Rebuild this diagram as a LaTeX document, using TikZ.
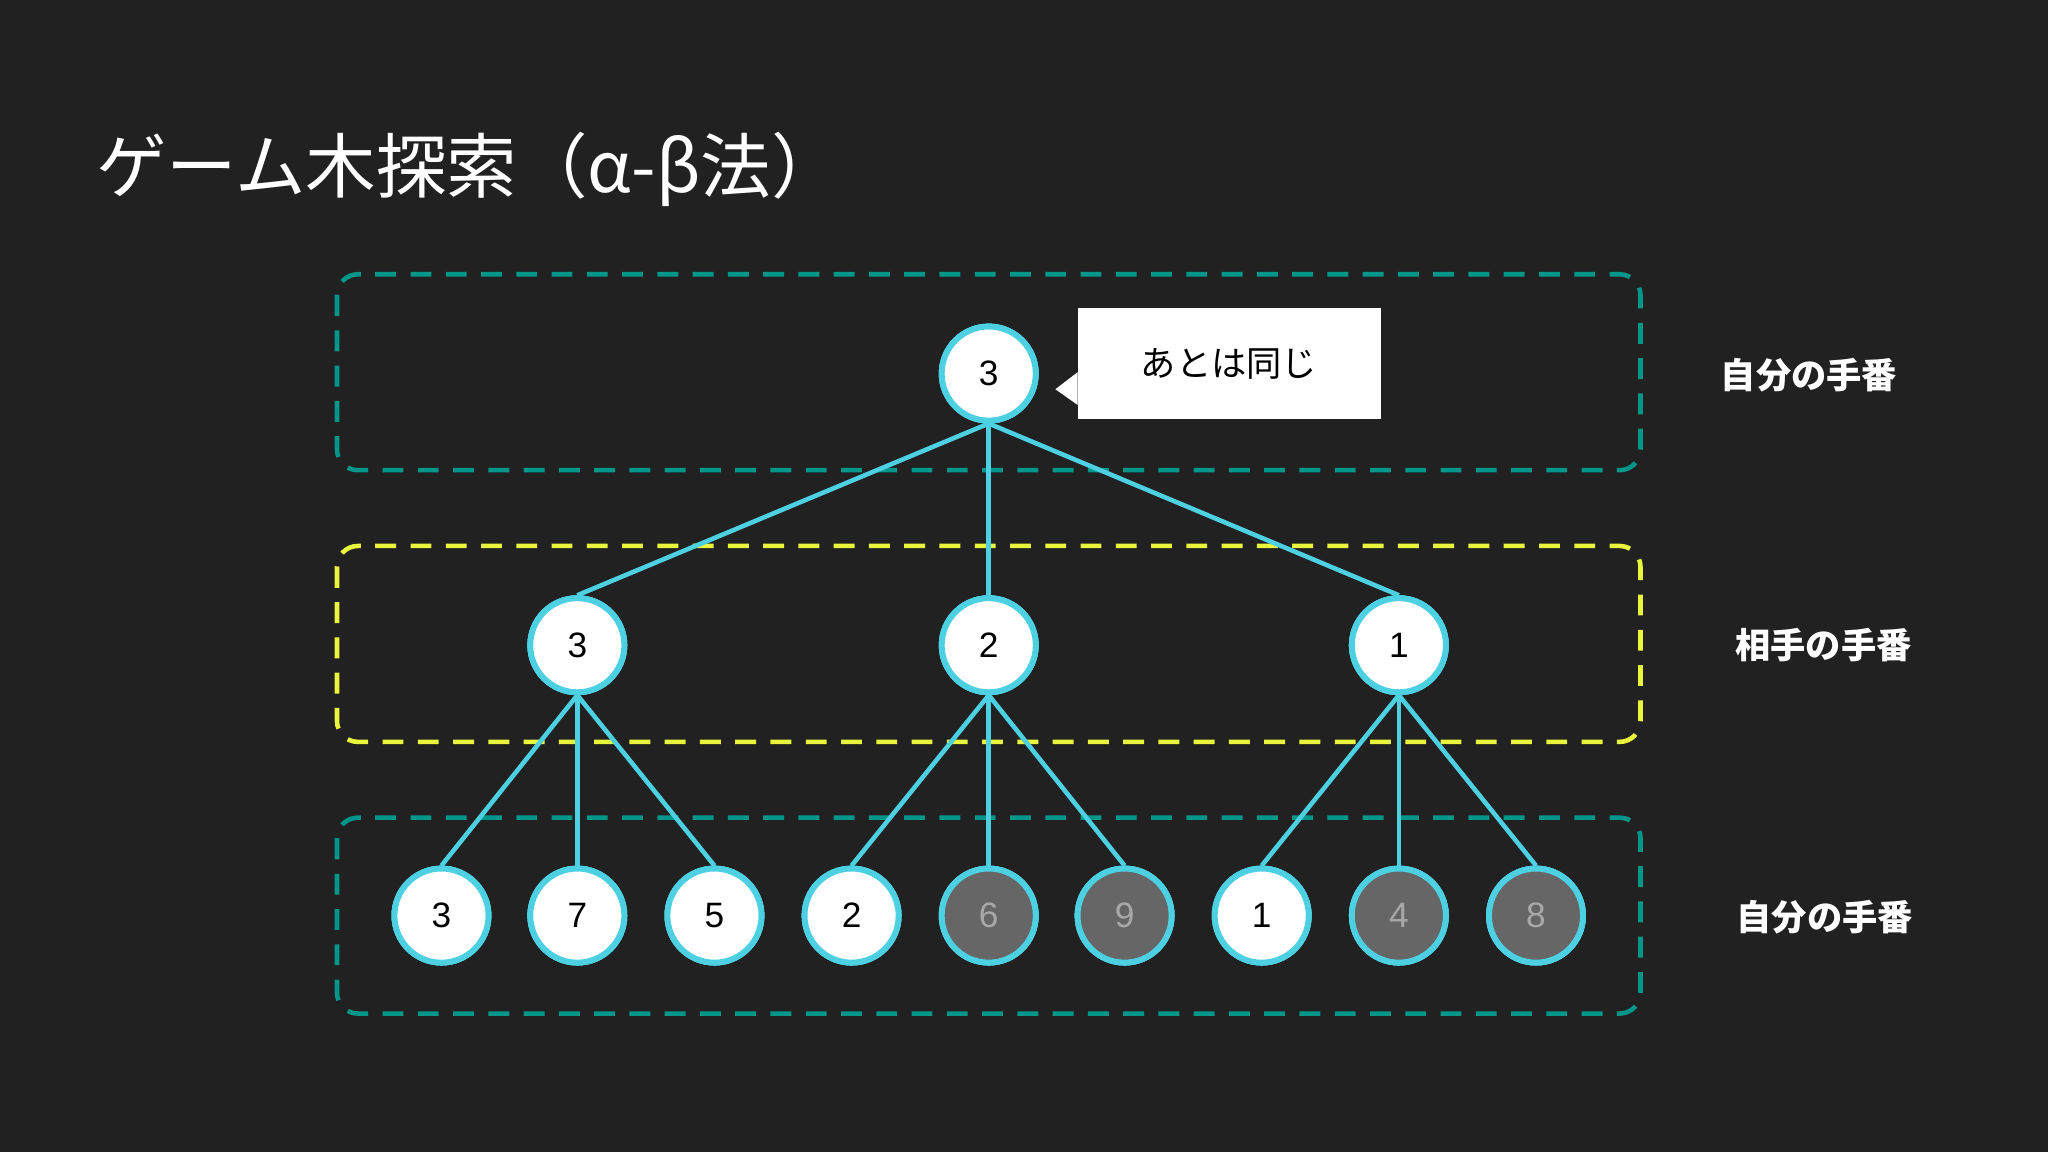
\documentclass[tikz,border=0pt]{standalone}
\usepackage{fontspec}
\setmainfont{Noto Sans CJK JP}
\newfontfamily\numf{Liberation Sans}
\newfontfamily\jpb{Noto Sans CJK JP Bold}
\begin{document}
\begin{tikzpicture}[x=1pt,y=-1pt,
  nd/.style={circle,draw=cyanc,line width=4.5pt,fill=white,minimum size=72pt,inner sep=0pt,font=\numf\fontsize{27}{30}\selectfont,text=black},
  gr/.style={nd,fill=gray50,text=gray80},
  ed/.style={draw=cyanc,line width=3.5pt},
  band/.style={dashed,dash pattern=on 16pt off 11pt,line width=3.5pt,rounded corners=16pt},
  lab/.style={text=white,font=\bfseries\fontsize{27}{30}\selectfont}]
\definecolor{bg}{HTML}{212121}
\definecolor{cyanc}{HTML}{4DD0E1}
\definecolor{teal}{HTML}{00968A}
\definecolor{yel}{HTML}{E8F53C}
\definecolor{gray50}{HTML}{666666}
\definecolor{gray80}{HTML}{A8A8A8}
\fill[bg] (0,0) rectangle (1568,882);
\useasboundingbox (0,0) rectangle (1568,882);
\node[anchor=west,text=white,font=\fontsize{54}{60}\selectfont] (title) at (70,130) {ゲーム木探索（α-β法）};
\draw[band,teal] (258,210) rectangle (1256,360);
\draw[band,yel] (258,418) rectangle (1256,568);
\draw[band,teal] (258,626) rectangle (1256,776);
\node[nd] (r) at (757,286) {3};
\node[nd] (a) at (442,494) {3};
\node[nd] (b) at (757,494) {2};
\node[nd] (c) at (1071,494) {1};
\node[nd] (l1) at (338,701) {3};
\node[nd] (l2) at (442,701) {7};
\node[nd] (l3) at (547,701) {5};
\node[nd] (l4) at (652,701) {2};
\node[gr] (l5) at (757,701) {6};
\node[gr] (l6) at (861,701) {9};
\node[nd] (l7) at (966,701) {1};
\node[gr] (l8) at (1071,701) {4};
\node[gr] (l9) at (1176,701) {8};
\begin{scope}[on background layer/.style={}]
\end{scope}
\foreach \p/\q in {r/a,r/b,r/c,a/l1,a/l2,a/l3,b/l4,b/l5,b/l6,c/l7,c/l8,c/l9}{
  \draw[ed] (\p.south) -- (\q.north);}
\foreach \n in {r,a,b,c,l1,l2,l3,l4,l7}{\node[nd] at (\n) {};}
\foreach \n in {l5,l6,l8,l9}{\node[gr] at (\n) {};}
\node[nd] at (r) {3};\node[nd] at (a) {3};\node[nd] at (b) {2};\node[nd] at (c) {1};
\node[nd] at (l1) {3};\node[nd] at (l2) {7};\node[nd] at (l3) {5};\node[nd] at (l4) {2};\node[nd] at (l7) {1};
\node[gr] at (l5) {6};\node[gr] at (l6) {9};\node[gr] at (l8) {4};\node[gr] at (l9) {8};
\fill[white] (825,236) rectangle (1057,321);
\fill[white] (825,285) -- (808,298) -- (825,310) -- cycle;
\node[font=\fontsize{27}{30}\selectfont,text=black] (call) at (941,279) {あとは同じ};
\node[lab] (t1) at (1385,287) {自分の手番};
\node[lab] (t2) at (1396,494) {相手の手番};
\node[lab] (t3) at (1397,702) {自分の手番};
\end{tikzpicture}
\end{document}
